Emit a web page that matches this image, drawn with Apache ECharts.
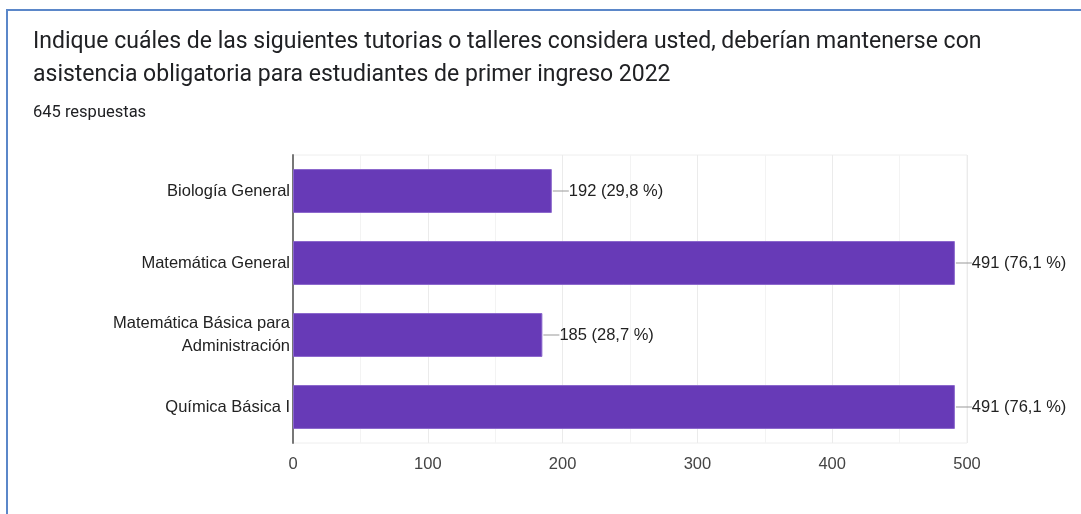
<!DOCTYPE html>
<html>
<head>
<meta charset="utf-8">
<script src="https://cdn.jsdelivr.net/npm/echarts@6/dist/echarts.min.js"></script>
<style>
  html, body { margin: 0; padding: 0; background: #fff; }
  #chart { width: 1081px; height: 514px; }
</style>
</head>
<body>
<div id="chart"></div>
<script>
var categories = ['Biología General', 'Matemática General', 'Matemática Básica para\nAdministración', 'Química Básica I'];
var counts = [192, 491, 185, 491];
var percents = ['29,8', '76,1', '28,7', '76,1'];
var xTicks = [0, 100, 200, 300, 400, 500];

var chart = echarts.init(document.getElementById('chart'));

var option = {
    animation: false,
    backgroundColor: '#fff',
    title: {
        text: 'Indique cuáles de las siguientes tutorias o talleres considera usted, deberían mantenerse con\nasistencia obligatoria para estudiantes de primer ingreso 2022',
        subtext: '645 respuestas',
        left: 28,
        top: 21,
        itemGap: 12,
        textStyle: {
            fontFamily: 'Roboto, Arial, sans-serif',
            fontSize: 23,
            fontWeight: 'normal',
            color: '#202124',
            lineHeight: 33
        },
        subtextStyle: {
            fontFamily: 'Roboto, Arial, sans-serif',
            fontSize: 16.5,
            color: '#202124'
        }
    },
    graphic: [{
        type: 'polyline',
        shape: { points: [[7, 514], [7, 10], [1081, 10]] },
        style: { stroke: '#5b87c9', lineWidth: 2, fill: null }
    }],
    grid: {
        left: 293,
        right: 114,
        top: 155,
        bottom: 71,
        show: true,
        borderColor: '#eeeeee',
        borderWidth: 1
    },
    xAxis: {
        type: 'value',
        min: xTicks[0],
        max: xTicks[xTicks.length - 1],
        interval: 100,
        axisLine: { show: false },
        axisTick: { show: false },
        axisLabel: {
            color: '#444',
            fontFamily: 'Arial, sans-serif',
            fontSize: 16.5,
            margin: 13
        },
        splitLine: { lineStyle: { color: '#ebebeb' } },
        minorTick: { show: false, splitNumber: 2 },
        minorSplitLine: { show: true, lineStyle: { color: '#f3f3f3' } }
    },
    yAxis: {
        type: 'category',
        data: categories,
        inverse: true,
        axisLine: { show: true, lineStyle: { color: '#777', width: 2 } },
        axisTick: { show: false },
        splitLine: { show: false },
        axisLabel: {
            color: '#222',
            fontFamily: 'Arial, sans-serif',
            fontSize: 16.5,
            lineHeight: 23,
            margin: 3,
            align: 'right'
        }
    },
    series: [{
        type: 'bar',
        data: counts,
        barCategoryGap: '39%',
        itemStyle: { color: '#673ab7', borderColor: '#8b67cc', borderWidth: 1 },
        label: {
            show: true,
            position: 'right',
            distance: 1,
            formatter: function (p) {
                return '{ln|}{t|' + counts[p.dataIndex] + ' (' + percents[p.dataIndex] + ' %)}';
            },
            rich: {
                ln: { width: 16, height: 1, backgroundColor: '#999999', verticalAlign: 'middle' },
                t: {
                    color: '#222',
                    fontFamily: 'Arial, sans-serif',
                    fontSize: 16.5
                }
            }
        }
    }]
};

chart.setOption(option);
</script>
</body>
</html>
